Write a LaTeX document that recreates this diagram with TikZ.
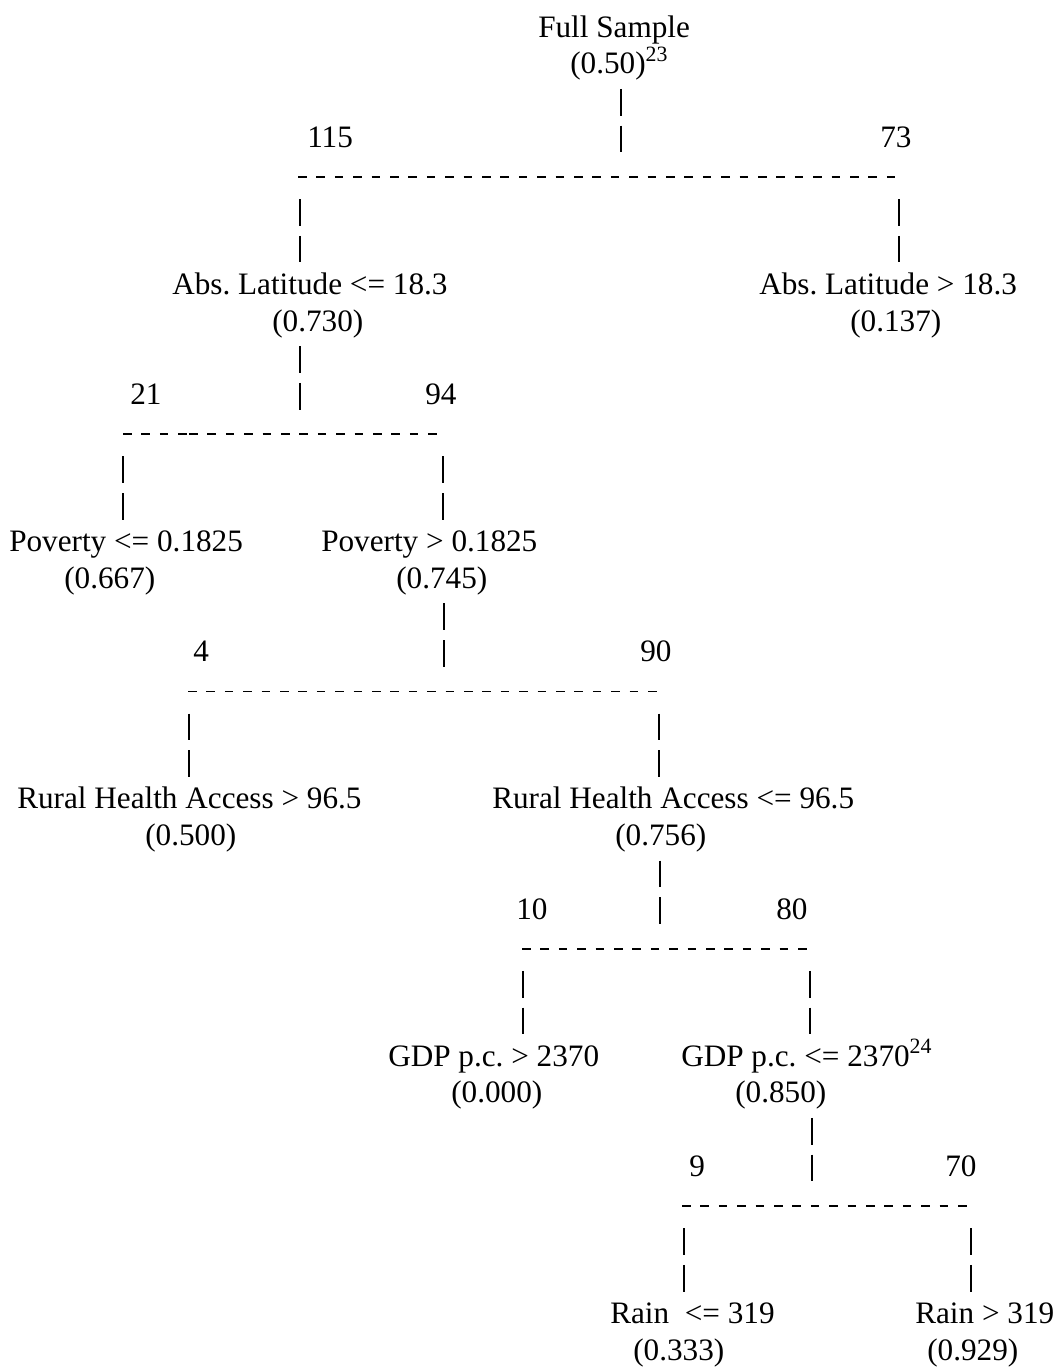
\documentclass[tikz,border=0pt]{standalone}
\usepackage{fontspec}
\setmainfont{Liberation Serif}
\frenchspacing

\begin{document}
\begin{tikzpicture}[x=0.75pt,y=0.75pt,yscale=-1,xscale=1,
  lbl/.style={anchor=base west,inner sep=0pt,font=\fontsize{23.4pt}{28pt}\selectfont\frenchspacing},
  vbar/.style={line width=0.95pt,dash pattern=on 20.06pt off 7.5pt},
  hdash/.style={line width=1.25pt,dash pattern=on 6.4pt off 7.4pt}]
\useasboundingbox (0,0) rectangle (1058,1368);

% Text Node
\node[lbl] (full) at (538,37) {Full Sample};
% Text Node
\node[lbl] (fullv) at (570,73.75) {(0.50)\textsuperscript{23}};
% Text Node
\node[lbl] (n115) at (307,147.25) {115};
% Text Node
\node[lbl] (n73) at (880,147.25) {73};
% Text Node
\node[lbl] (latlo) at (172,294.25) {Abs. Latitude <= 18.3};
% Text Node
\node[lbl] (latlov) at (272,331) {(0.730)};
% Text Node
\node[lbl] (lathi) at (759,294.25) {Abs. Latitude > 18.3};
% Text Node
\node[lbl] (lathiv) at (850,331) {(0.137)};
% Text Node
\node[lbl] (n21) at (130,404.5) {21};
% Text Node
\node[lbl] (n94) at (425,404.5) {94};
% Text Node
\node[lbl] (povlo) at (9,551.5) {Poverty <= 0.1825};
% Text Node
\node[lbl] (povlov) at (64,588.25) {(0.667)};
% Text Node
\node[lbl] (povhi) at (321,551.5) {Poverty > 0.1825};
% Text Node
\node[lbl] (povhiv) at (396,588.25) {(0.745)};
% Text Node
\node[lbl] (n4) at (193,661.75) {4};
% Text Node
\node[lbl] (n90) at (640,661.75) {90};
% Text Node
\node[lbl] (rhahi) at (17,808.75) {Rural Health Access > 96.5};
% Text Node
\node[lbl] (rhahiv) at (145,845.5) {(0.500)};
% Text Node
\node[lbl] (rhalo) at (492,808.75) {Rural Health Access <= 96.5};
% Text Node
\node[lbl] (rhalov) at (615,845.5) {(0.756)};
% Text Node
\node[lbl] (n10) at (516,919) {10};
% Text Node
\node[lbl] (n80) at (776,919) {80};
% Text Node
\node[lbl] (gdphi) at (388,1066) {GDP p.c. > 2370};
% Text Node
\node[lbl] (gdphiv) at (451,1102.75) {(0.000)};
% Text Node
\node[lbl] (gdplo) at (681,1066) {GDP p.c. <= 2370\textsuperscript{24}};
% Text Node
\node[lbl] (gdplov) at (735,1102.75) {(0.850)};
% Text Node
\node[lbl] (n9) at (689,1176.25) {9};
% Text Node
\node[lbl] (n70) at (945,1176.25) {70};
% Text Node
\node[lbl] (rainlo) at (610,1323.25) {Rain\ \ <= 319};
% Text Node
\node[lbl] (rainlov) at (633,1360) {(0.333)};
% Text Node
\node[lbl] (rainhi) at (915,1323.25) {Rain > 319};
% Text Node
\node[lbl] (rainhiv) at (927,1360) {(0.929)};

%Straight Lines
\coordinate (s1t) at (621,88.75);
\coordinate (s1b) at (621,152.25);
\coordinate (s1l) at (298,177);
\coordinate (s1r) at (905,177);
\coordinate (s1lt) at (300,199);
\coordinate (s1lb) at (300,262.5);
\coordinate (s1rt) at (899,199);
\coordinate (s1rb) at (899,262.5);
\draw[vbar] (s1t) -- (s1b);
\draw[hdash] (s1l) -- (s1r);
\draw[vbar] (s1lt) -- (s1lb);
\draw[vbar] (s1rt) -- (s1rb);

%Straight Lines
\coordinate (s2t) at (300,346);
\coordinate (s2b) at (300,409.5);
\coordinate (s2l) at (123,434.25);
\coordinate (s2m) at (197,434.25);
\coordinate (s2n) at (189,434.25);
\coordinate (s2r) at (441,434.25);
\coordinate (s2lt) at (123,456.25);
\coordinate (s2lb) at (123,519.75);
\coordinate (s2rt) at (443,456.25);
\coordinate (s2rb) at (443,519.75);
\draw[vbar] (s2t) -- (s2b);
\draw[hdash] (s2l) -- (s2m);
\draw[hdash] (s2n) -- (s2r);
\draw[vbar] (s2lt) -- (s2lb);
\draw[vbar] (s2rt) -- (s2rb);

%Straight Lines
\coordinate (s3t) at (444,603.25);
\coordinate (s3b) at (444,666.75);
\coordinate (s3l) at (188,691.5);
\coordinate (s3r) at (661,691.5);
\coordinate (s3lt) at (189,713.5);
\coordinate (s3lb) at (189,777);
\coordinate (s3rt) at (659,713.5);
\coordinate (s3rb) at (659,777);
\draw[vbar] (s3t) -- (s3b);
\draw[hdash] (s3l) -- (s3r);
\draw[vbar] (s3lt) -- (s3lb);
\draw[vbar] (s3rt) -- (s3rb);

%Straight Lines
\coordinate (s4t) at (660,860.5);
\coordinate (s4b) at (660,924);
\coordinate (s4l) at (522,948.75);
\coordinate (s4r) at (811,948.75);
\coordinate (s4lt) at (523,970.75);
\coordinate (s4lb) at (523,1034.25);
\coordinate (s4rt) at (810,970.75);
\coordinate (s4rb) at (810,1034.25);
\draw[vbar] (s4t) -- (s4b);
\draw[hdash] (s4l) -- (s4r);
\draw[vbar] (s4lt) -- (s4lb);
\draw[vbar] (s4rt) -- (s4rb);

%Straight Lines
\coordinate (s5t) at (812,1117.75);
\coordinate (s5b) at (812,1181.25);
\coordinate (s5l) at (682,1206);
\coordinate (s5r) at (971,1206);
\coordinate (s5lt) at (684,1228);
\coordinate (s5lb) at (684,1291.5);
\coordinate (s5rt) at (971,1228);
\coordinate (s5rb) at (971,1291.5);
\draw[vbar] (s5t) -- (s5b);
\draw[hdash] (s5l) -- (s5r);
\draw[vbar] (s5lt) -- (s5lb);
\draw[vbar] (s5rt) -- (s5rb);

\end{tikzpicture}
\end{document}
